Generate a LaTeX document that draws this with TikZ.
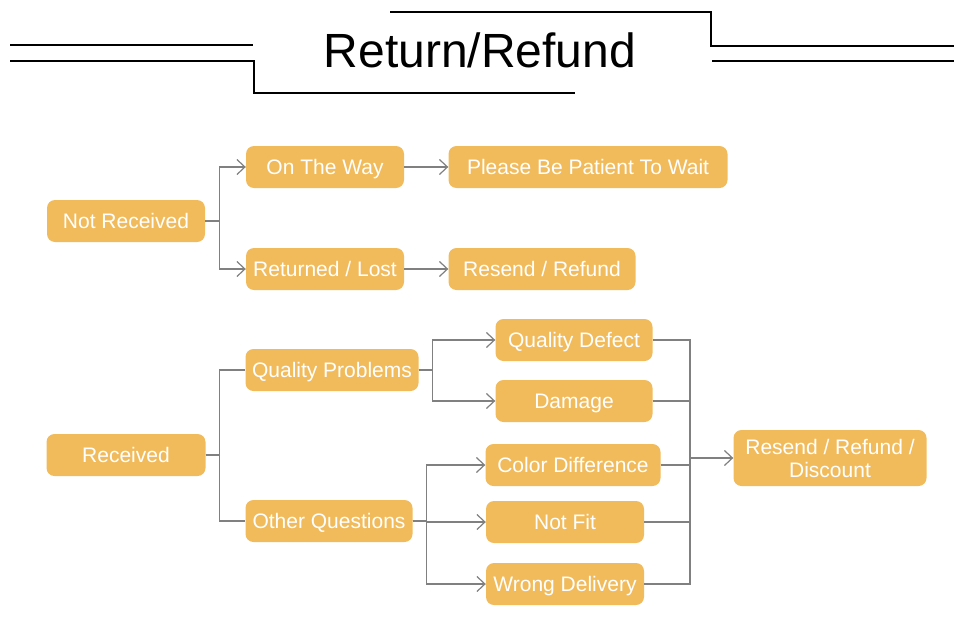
\documentclass[tikz,border=0pt]{standalone}
\usepackage{fontspec}
\setmainfont{Liberation Sans}
\usetikzlibrary{arrows.meta,positioning}
\definecolor{boxgold}{RGB}{241,187,92}
\definecolor{lingray}{RGB}{128,128,128}

\begin{document}
\begin{tikzpicture}[x=1pt,y=-1pt,
  box/.style={fill=boxgold,rounded corners=8pt,minimum height=42pt,
              text=white,font=\fontsize{21}{23}\selectfont,align=center,inner sep=0pt},
  sl/.style={box,text height=16pt,text depth=1pt},
  ln/.style={draw=lingray,line width=1.2pt},
  tr/.style={ln,-{Straight Barb[length=8pt,width=15pt]}},
  rule/.style={line width=2pt,color=black}
]
\useasboundingbox (0,0) rectangle (973,637);

% Title with its frame lines
\node[anchor=base,font=\fontsize{48}{52}\selectfont] (ttl) at (480,67) {Return/Refund};
\draw[rule] (10,45) -- (253,45);
\draw[rule] (10,61) -- (254,61) -- (254,93) -- (575,93);
\draw[rule] (390,12) -- (711,12) -- (711,46) -- (954,46);
\draw[rule] (712,61) -- (954,61);

% Not received branch
\node[sl,minimum width=158pt] (nrec)   at (126,221) {Not Received};
\node[sl,minimum width=158pt] (way)    at (325,167) {On The Way};
\node[sl,minimum width=158pt] (lost)   at (325,269) {Returned / Lost};
\node[sl,minimum width=279pt] (wait)   at (588,167) {Please Be Patient To Wait};
\node[sl,minimum width=187pt] (resend) at (542,269) {Resend / Refund};

% Received branch
\node[sl,minimum width=159pt] (rec)    at (126,455) {Received};
\node[sl,minimum width=173pt] (qual)   at (332,370) {Quality Problems};
\node[sl,minimum width=167pt] (other)  at (329,521) {Other Questions};
\node[sl,minimum width=157pt] (defect) at (574,340) {Quality Defect};
\node[sl,minimum width=157pt] (damage) at (574,401) {Damage};
\node[sl,minimum width=175pt] (color)  at (573,465) {Color Difference};
\node[sl,minimum width=158pt] (notfit) at (565,522) {Not Fit};
\node[sl,minimum width=158pt] (wrong)  at (565,584) {Wrong Delivery};
\node[box,minimum width=193pt,minimum height=56pt] (disc) at (830,458)
    {Resend / Refund /\\Discount};

% Not received -> way / lost
\draw[tr] (nrec.east) -- ++(14,0) |- (way.west);
\draw[tr] (nrec.east) -- ++(14,0) |- (lost.west);
\draw[tr] (way) -- (wait);
\draw[tr] (lost) -- (resend);

% Received -> problems / questions
\draw[ln] (rec.east) -- ++(14,0) |- (qual.west);
\draw[ln] (rec.east) -- ++(14,0) |- (other.west);
\draw[tr] (qual.east) -- ++(14,0) |- (defect.west);
\draw[tr] (qual.east) -- ++(14,0) |- (damage.west);
\draw[tr] (other.east) -- ++(14,0) |- (color.west);
\draw[tr] (other.east) -- ++(14,0) |- (notfit.west);
\draw[tr] (other.east) -- ++(14,0) |- (wrong.west);

% Merge into resend / refund / discount
\coordinate (mrg) at (690,458);
\foreach \n in {defect,damage,color,notfit,wrong}
  \draw[ln] (\n.east) -| (mrg);
\draw[tr] (mrg) -- (disc);

\end{tikzpicture}
\end{document}
